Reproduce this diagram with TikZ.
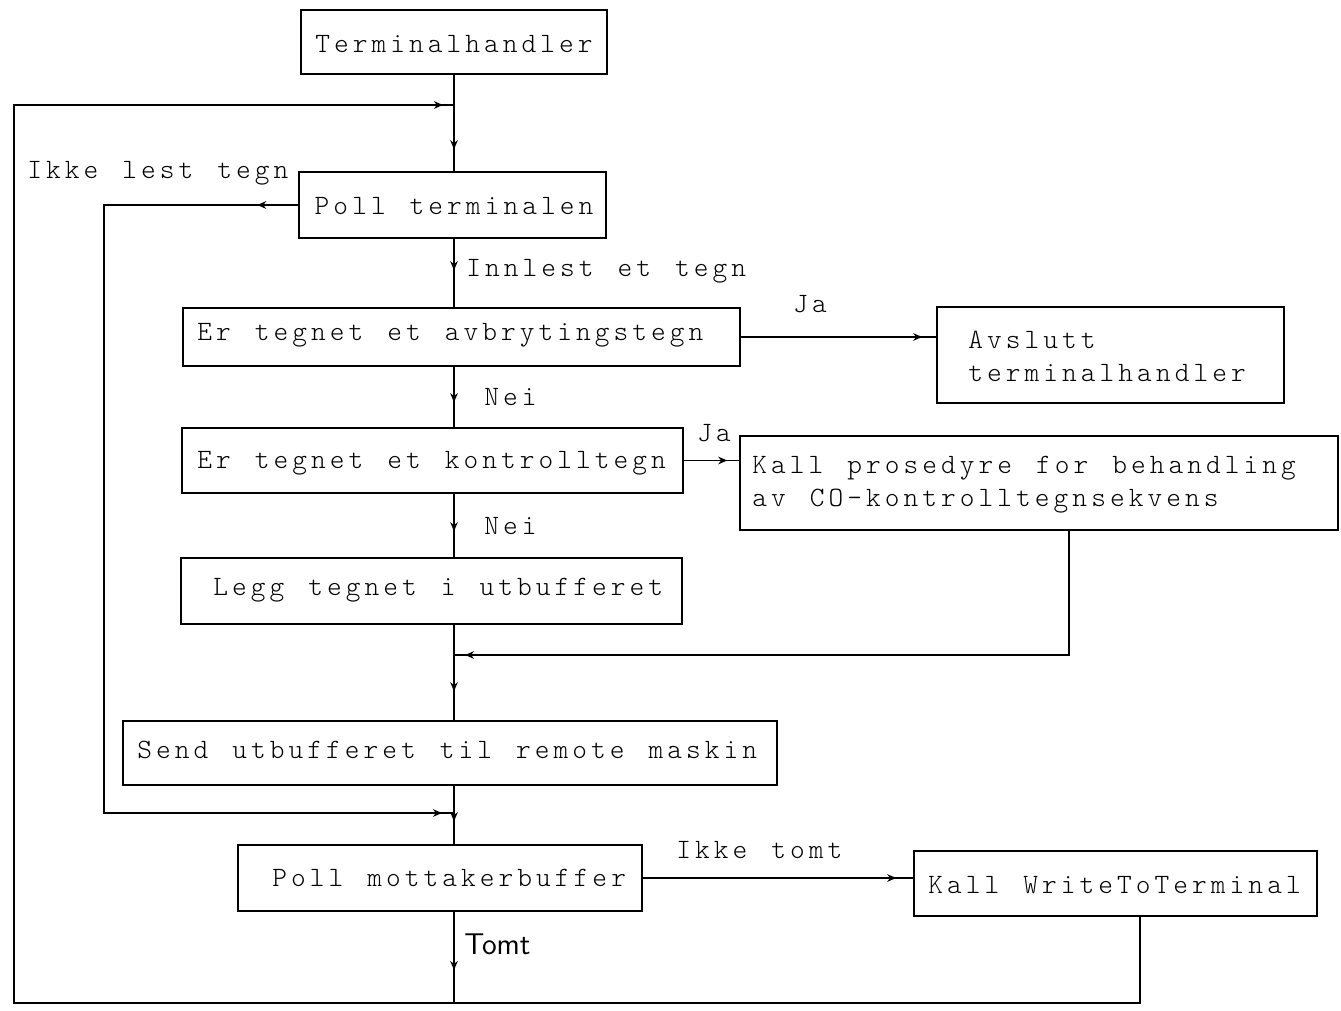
\documentclass[tikz,border=0pt]{standalone}
\usepackage{fontspec}
\setmonofont[LetterSpace=14.5,WordSpace=1.28]{Latin Modern Mono Light}
\usetikzlibrary{arrows.meta,decorations.markings}
\tikzset{
  boxnode/.style 2 args={draw, line width=0.8pt, minimum width=#1pt, minimum height=#2pt, inner sep=0pt},
  txt/.style={font=\ttfamily\fontsize{14}{16.5}\selectfont, inner sep=0pt, anchor=west, align=left},
  flow/.style={line width=0.8pt},
  arrowat/.style={postaction={decorate, decoration={markings, mark=at position #1 with {\arrow{Stealth[length=4.5pt,width=3.8pt]}}}}}
}
\begin{document}
\begin{tikzpicture}[x=0.5pt,y=-0.5pt]
\useasboundingbox (0,0) rectangle (1341,1011);
% boxes
\node[boxnode={153}{32}] (B1) at (454,42) {};
\node[boxnode={153.5}{33}] (B2) at (452.5,205) {};
\node[boxnode={278.5}{29}] (B3) at (461.5,337) {};
\node[boxnode={173.5}{48}] (Avs) at (1110.5,355) {};
\node[boxnode={250.5}{32.5}] (B4) at (432.5,460.5) {};
\node[boxnode={299}{47}] (KP) at (1039,483) {};
\node[boxnode={250.5}{33}] (B5) at (431.5,591) {};
\node[boxnode={327}{32}] (B6) at (450,753) {};
\node[boxnode={202}{33}] (B7) at (440,878) {};
\node[boxnode={201.5}{32.5}] (KW) at (1115.5,883.5) {};
% box texts
\node[txt, anchor=center] (B1t) at (454,44) {Terminalhandler};
\node[txt, anchor=center] (B2t) at (454,206) {Poll terminalen};
\node[txt] (B3t) at (197,335) {Er tegnet et avbrytingstegn};
\node[txt] (Avst) at (968,356.5) {Avslutt\\terminalhandler};
\node[txt] (B4t) at (197,463) {Er tegnet et kontrolltegn};
\node[txt] (KPt) at (752,484.5) {Kall prosedyre for behandling\\av CO-kontrolltegnsekvens};
\node[txt] (B5t) at (213,590) {Legg tegnet i utbufferet};
\node[txt] (B6t) at (137,750) {Send utbufferet til remote maskin};
\node[txt] (B7t) at (272,878) {Poll mottakerbuffer};
\node[txt] (KWt) at (928,885) {Kall WriteToTerminal};
% connector labels
\node[txt] (L1) at (27,173) {Ikke lest tegn};
\node[txt] (L2) at (466,271) {Innlest et tegn};
\node[txt] (L3) at (793,304) {Ja};
\node[txt] (L4) at (484,397) {Nei};
\node[txt] (L5) at (697,433) {Ja};
\node[txt] (L6) at (484,526) {Nei};
\node[txt] (L7) at (676,850) {Ikke tomt};
\node[inner sep=0pt, anchor=west, font=\sffamily\fontsize{15}{16}\selectfont] (L8) at (464,944) {Tomt};
% coordinates
\coordinate (mx) at (454,0);
\coordinate (j1) at (454,105);
\coordinate (j2) at (454,655);
\coordinate (j3) at (454,813);
\coordinate (j4) at (454,1003);
\coordinate (lo) at (14,0);
\coordinate (li) at (104,0);
\coordinate (kp) at (1069,0);
\coordinate (kw) at (1140,0);
% connectors
\draw[flow, arrowat=-11pt] (B1.south -| mx) -- (B2.north -| mx);
\draw[flow, arrowat=-5.5pt] (j4) -- (j4 -| lo) -- (j1 -| lo) -- (j1);
\draw[flow, arrowat=20.5pt, arrowat=-6pt] (B2.west) -- (B2.west -| li) -- (j3 -| li) -- (j3);
\draw[flow, arrowat=-18.5pt] (B2.south -| mx) -- (B3.north -| mx);
\draw[flow, arrowat=-7pt] (B3.east) -- (B3.east -| Avs.west);
\draw[flow, arrowat=-12.5pt] (B3.south -| mx) -- (B4.north -| mx);
\draw[flow, arrowat=-6pt] (B4.east) -- (B4.east -| KP.west);
\draw[flow, arrowat=-13pt] (B4.south -| mx) -- (B5.north -| mx);
\draw[flow, arrowat=-14.5pt] (B5.south -| mx) -- (B6.north -| mx);
\draw[flow, arrowat=-5.5pt] (KP.south -| kp) -- (j2 -| kp) -- (j2);
\draw[flow, arrowat=-11.5pt] (B6.south -| mx) -- (B7.north -| mx);
\draw[flow, arrowat=-8.5pt] (B7.east) -- (B7.east -| KW.west);
\draw[flow, arrowat=-16.5pt] (B7.south -| mx) -- (j4);
\draw[flow] (KW.south -| kw) -- (j4 -| kw) -- (j4);
\end{tikzpicture}
\end{document}
